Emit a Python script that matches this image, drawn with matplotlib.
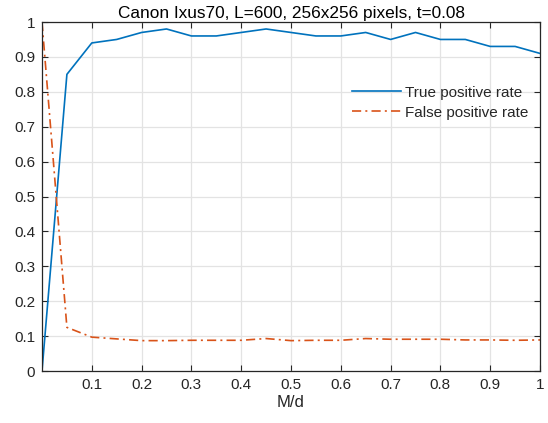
import matplotlib
matplotlib.use("Agg")
import matplotlib.pyplot as plt
import numpy as np

plt.rcParams['font.family'] = ['Liberation Sans', 'DejaVu Sans']

md = [0, 0.05, 0.1, 0.15, 0.2, 0.25, 0.3, 0.35, 0.4, 0.45, 0.5,
      0.55, 0.6, 0.65, 0.7, 0.75, 0.8, 0.85, 0.9, 0.95, 1.0]
tpr = [0.0, 0.85, 0.94, 0.95, 0.97, 0.98, 0.96, 0.96, 0.97, 0.98, 0.97,
       0.96, 0.96, 0.97, 0.95, 0.97, 0.95, 0.95, 0.93, 0.93, 0.91]
fpr = [1.0, 0.125, 0.097, 0.092, 0.087, 0.087, 0.088, 0.088, 0.088, 0.093, 0.087,
       0.088, 0.088, 0.093, 0.091, 0.091, 0.091, 0.089, 0.089, 0.088, 0.089]
xticks = [0.1, 0.2, 0.3, 0.4, 0.5, 0.6, 0.7, 0.8, 0.9, 1.0]
xticklabels = ['0.1', '0.2', '0.3', '0.4', '0.5', '0.6', '0.7', '0.8', '0.9', '1']
yticks = [0, 0.1, 0.2, 0.3, 0.4, 0.5, 0.6, 0.7, 0.8, 0.9, 1.0]
yticklabels = ['0', '0.1', '0.2', '0.3', '0.4', '0.5', '0.6', '0.7', '0.8', '0.9', '1']

fig = plt.figure(figsize=(5.48, 4.23), dpi=100)
ax = fig.add_axes([42/548, 52/423, 498/548, 349/423])

dark = '#262626'
ax.plot(md, tpr, color='#0072BD', lw=1.2, label='True positive rate')
ax.plot(md, fpr, color='#D95319', lw=1.2, dashes=(5.5, 2.5, 1.2, 2.5), label='False positive rate')

ax.set_xlim(0, 1)
ax.set_ylim(0, 1)
ax.set_xticks(xticks)
ax.set_xticklabels(xticklabels)
ax.set_yticks(yticks)
ax.set_yticklabels(yticklabels)
ax.grid(True, color='#e3e3e3', lw=0.9)
ax.set_axisbelow(True)
for s in ax.spines.values():
    s.set_color(dark)
    s.set_linewidth(0.9)
ax.tick_params(direction='in', length=4, width=0.8, colors=dark, labelsize=11,
               top=True, right=True, pad=5)
ax.set_xlabel('M/d', fontsize=12, color=dark, labelpad=2)
ax.set_title('Canon Ixus70, L=600, 256x256 pixels, t=0.08', fontsize=12.4, color='black', pad=3)

leg = ax.legend(loc='upper right', bbox_to_anchor=(0.988, 0.835), frameon=False,
                fontsize=11, handlelength=3.15, handletextpad=0.26, labelspacing=0.4,
                borderaxespad=0)
for t in leg.get_texts():
    t.set_color(dark)

fig.savefig('out.png', dpi=100)
